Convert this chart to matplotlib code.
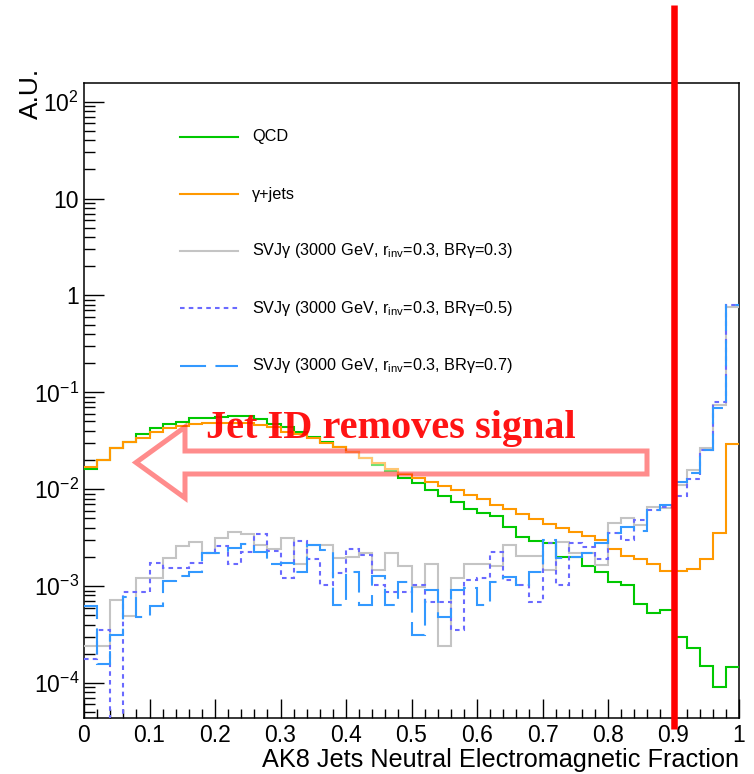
import numpy as np
import matplotlib
matplotlib.use("Agg")
import matplotlib.pyplot as plt
from matplotlib.ticker import FixedLocator, FuncFormatter, NullFormatter
from matplotlib.patches import Polygon
import matplotlib.transforms as mtransforms

plt.rcParams["font.family"] = ["Liberation Sans", "DejaVu Sans"]
plt.rcParams["mathtext.fontset"] = "custom"
plt.rcParams["mathtext.rm"] = "Liberation Sans"
plt.rcParams["mathtext.default"] = "regular"

# 50 bins of the AK8 jet neutral EM fraction, normalised to unit area
bin_edges = np.linspace(0.0, 1.0, 51)

qcd = [0.0163, 0.0200, 0.0269, 0.0310, 0.0369, 0.0426, 0.0475, 0.0499, 0.0540, 0.0548,
       0.0557, 0.0575, 0.0575, 0.0531, 0.0468, 0.0443, 0.0387, 0.0349, 0.0310, 0.0275,
       0.0241, 0.0208, 0.0178, 0.0155, 0.0130, 0.0115, 0.0099, 0.0086, 0.0073, 0.0062,
       0.0057, 0.0053, 0.0041, 0.0032, 0.00295, 0.00277, 0.0020, 0.0020, 0.00163, 0.00141,
       0.00111, 0.00103, 0.00065, 0.00053, 0.00057, 0.00030, 0.00023, 0.000148, 0.000091, 0.000146]

gjets = [0.0170, 0.0200, 0.0265, 0.0305, 0.0340, 0.0393, 0.0426, 0.0453, 0.0468, 0.0480,
         0.0480, 0.0483, 0.0483, 0.0455, 0.0443, 0.0393, 0.0369, 0.0336, 0.0298, 0.0275,
         0.0241, 0.0212, 0.0185, 0.0162, 0.0143, 0.0130, 0.0118, 0.0107, 0.0097, 0.0088,
         0.0079, 0.0068, 0.0062, 0.0055, 0.0049, 0.0044, 0.0040, 0.0036, 0.0033, 0.0030,
         0.0024, 0.00205, 0.0019, 0.0017, 0.00142, 0.00142, 0.0015, 0.0019, 0.0035, 0.029]

svj_br03 = [0.00024, 0.00024, 0.00072, 0.00049, 0.00121, 0.00121, 0.00194, 0.00262, 0.00288, 0.00222,
            0.00312, 0.0036, 0.00346, 0.00266, 0.0024, 0.00312, 0.0017, 0.00266, 0.00266, 0.00194,
            0.0020, 0.0022, 0.00147, 0.0022, 0.0016, 0.00098, 0.00168, 0.00024, 0.00121, 0.0017,
            0.0017, 0.0016, 0.00266, 0.00202, 0.00202, 0.00145, 0.00288, 0.00219, 0.00219, 0.00166,
            0.00453, 0.00502, 0.00429, 0.0066, 0.0064, 0.011, 0.0159, 0.0265, 0.074, 0.755]

svj_br05 = [0.000176, 0.00035, 0.0, 0.00087, 0.00087, 0.00175, 0.00155, 0.00155, 0.00175, 0.0022,
            0.00262, 0.0017, 0.00227, 0.00346, 0.0023, 0.00121, 0.00295, 0.0019, 0.00103, 0.00138,
            0.0024, 0.0021, 0.00103, 0.00086, 0.00086, 0.00103, 0.00069, 0.00069, 0.00035, 0.00116,
            0.00121, 0.00227, 0.00116, 0.00103, 0.00069, 0.00277, 0.00103, 0.00277, 0.00256, 0.0019,
            0.00351, 0.0030, 0.0048, 0.0061, 0.0066, 0.0085, 0.0127, 0.0255, 0.080, 0.80]

svj_br07 = [0.000625, 0.000157, 0.000313, 0.00078, 0.000477, 0.000625, 0.00113, 0.00128, 0.00141, 0.00222,
            0.00222, 0.00246, 0.00272, 0.00227, 0.0017, 0.00175, 0.00141, 0.00266, 0.00237, 0.00064,
            0.00141, 0.00064, 0.00128, 0.00064, 0.00111, 0.000313, 0.00091, 0.000477, 0.00091, 0.00095,
            0.00064, 0.00111, 0.00125, 0.00103, 0.00141, 0.0030, 0.00194, 0.00199, 0.00219, 0.00277,
            0.00351, 0.00411, 0.00366, 0.0061, 0.0069, 0.012, 0.0146, 0.0255, 0.0685, 0.80]

labels = ["QCD", "γ+jets",
          "SVJγ (3000 GeV, r$_{inv}$=0.3, BRγ=0.3)",
          "SVJγ (3000 GeV, r$_{inv}$=0.3, BRγ=0.5)",
          "SVJγ (3000 GeV, r$_{inv}$=0.3, BRγ=0.7)"]

x_ticks = [0.0, 0.1, 0.2, 0.3, 0.4, 0.5, 0.6, 0.7, 0.8, 0.9, 1.0]
y_ticks = [1e-4, 1e-3, 1e-2, 1e-1, 1.0, 10.0, 100.0]
jet_id_cut = 0.9

styles = [
    dict(color="#00c800", ls="-"),
    dict(color="#ff9900", ls="-"),
    dict(color="#c4c4c4", ls="-"),
    dict(color="#6a6aff", ls=(0, (2.2, 2.0))),
    dict(color="#3399ff", ls=(0, (12.5, 4.5))),
]
series = [qcd, gjets, svj_br03, svj_br05, svj_br07]

W, H = 754, 774
fig = plt.figure(figsize=(W / 100, H / 100), dpi=100)
ax_l, ax_r, ax_t, ax_b = 84, 739, 82.7, 717.5
ax = fig.add_axes([ax_l / W, 1 - ax_b / H, (ax_r - ax_l) / W, (ax_b - ax_t) / H])

ymin, ymax = 4.4e-5, 157.0
ax.set_xlim(0, 1)
ax.set_yscale("log")
ax.set_ylim(ymin, ymax)

for vals, st in zip(series, styles):
    v = np.asarray(vals, dtype=float)
    v = np.where(v > 0, v, ymin * 1e-3)
    ax.stairs(v, bin_edges, baseline=None, color=st["color"], linestyle=st["ls"],
              linewidth=1.5, zorder=3)

# axes styling: ticks inside, bottom and left only
for s in ax.spines.values():
    s.set_linewidth(1.1)
ax.xaxis.set_major_locator(FixedLocator(x_ticks))
ax.xaxis.set_minor_locator(FixedLocator(np.arange(0, 1.0001, 0.02)))
ax.xaxis.set_major_formatter(FuncFormatter(lambda v, p: "%g" % v))
ax.yaxis.set_major_locator(FixedLocator(y_ticks))
minor_y = [m * 10.0 ** e for e in range(-5, 3) for m in range(2, 10)]
minor_y = [v for v in minor_y if ymin <= v <= ymax]
ax.yaxis.set_minor_locator(FixedLocator(minor_y))
ax.yaxis.set_minor_formatter(NullFormatter())


def ylab(v, p):
    e = int(round(np.log10(v)))
    if e == 0:
        return "1"
    if e == 1:
        return "10"
    return "$10^{%d}$" % e


ax.yaxis.set_major_formatter(FuncFormatter(ylab))
ax.tick_params(axis="x", which="major", direction="in", length=13.7, width=1.0,
               labelsize=16.5, pad=4.5, top=False)
ax.tick_params(axis="x", which="minor", direction="in", length=6.5, width=1.0, top=False)
ax.tick_params(axis="y", which="major", direction="in", length=14.4, width=1.0,
               labelsize=16.5, pad=3.5, right=False)
ax.tick_params(axis="y", which="minor", direction="in", length=7.9, width=1.0, right=False)

fig.text(739 / W, 1 - 767 / H, "AK8 Jets Neutral Electromagnetic Fraction",
         ha="right", va="baseline", fontsize=18.2)
fig.text(31 / W, 1 - 68 / H, "A.U.", rotation=90, ha="center", va="top", fontsize=19)

# legend drawn entry by entry, no frame
leg_y = [137, 194, 251, 308, 366]
for yy, lab, st in zip(leg_y, labels, styles):
    fy = 1 - yy / H
    fig.add_artist(plt.Line2D([180 / W, 238 / W], [fy, fy], color=st["color"],
                              linestyle=st["ls"], linewidth=1.5, transform=fig.transFigure))
    fig.text(252 / W, fy, lab, ha="left", va="center", fontsize=11.7)

# jet-ID threshold
trans = mtransforms.blended_transform_factory(ax.transData, ax.transAxes)
y_lo = (ax_b - 729) / (ax_b - ax_t)
y_hi = (ax_b - 5) / (ax_b - ax_t)
ax.plot([jet_id_cut, jet_id_cut], [y_lo, y_hi], color="#ff0000", linewidth=4.7,
        transform=trans, clip_on=False, zorder=6, solid_capstyle="butt")

# annotation arrow (outline) pointing towards low fractions
arrow_px = [(136, 462.5), (185, 427), (185, 451), (647, 451),
            (647, 474), (185, 474), (185, 498)]
arrow_fig = [(x / W, 1 - y / H) for x, y in arrow_px]
fig.add_artist(Polygon(arrow_fig, closed=True, transform=fig.transFigure,
                       facecolor=(1, 1, 1, 0.45), edgecolor=(1, 0, 0, 0.45),
                       linewidth=3.6, joinstyle="miter", zorder=7))
fig.text(206 / W, 1 - 438 / H, "Jet ID removes signal", ha="left", va="baseline",
         fontsize=29, fontweight="bold", color="#ff0000", alpha=0.92,
         family=["Liberation Serif", "DejaVu Serif"], zorder=8)

fig.savefig("out.png", dpi=100)
